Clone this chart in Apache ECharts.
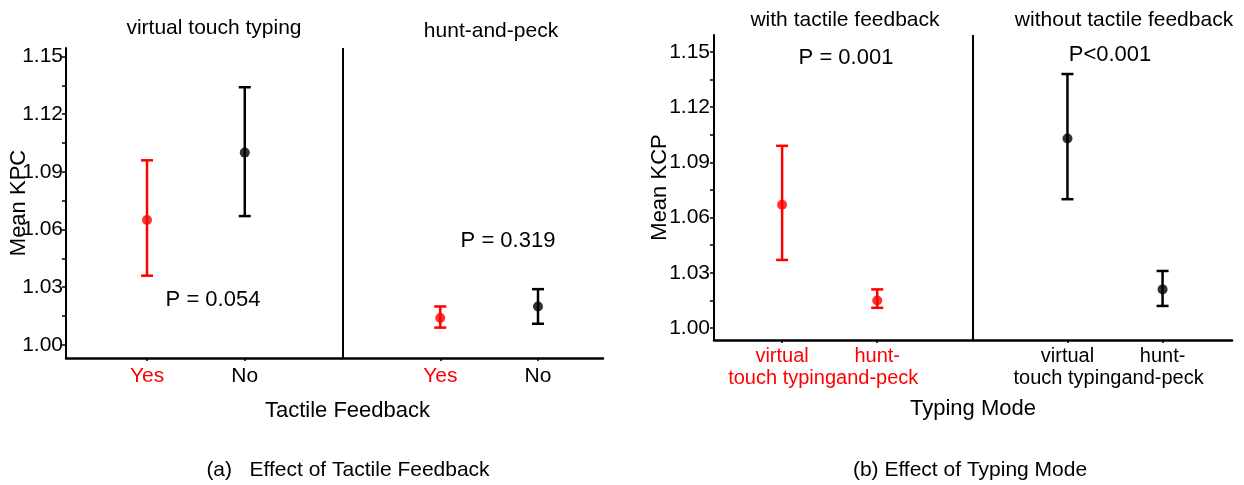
<!DOCTYPE html>
<html>
<head>
<meta charset="utf-8">
<script src="https://cdn.jsdelivr.net/npm/echarts@6/dist/echarts.min.js"></script>
<style>html,body{margin:0;padding:0;background:#fff}#c{width:1244px;height:485px}</style>
</head>
<body>
<div id="c"></div>
<script>
// ---- data ----
const leftCats = ['Yes', 'No', 'Yes', 'No'];
const leftGroups = ['virtual touch typing', 'hunt-and-peck'];
const leftMean = [1.065, 1.100, 1.014, 1.020];
const leftLow  = [1.036, 1.067, 1.009, 1.011];
const leftHigh = [1.096, 1.134, 1.020, 1.029];
const leftColorIdx = [0, 1, 0, 1];
const leftP = ['P = 0.054', 'P = 0.319'];

const rightCats = ['virtual\ntouch typing', 'hunt-\nand-peck', 'virtual\ntouch typing', 'hunt-\nand-peck'];
const rightGroups = ['with tactile feedback', 'without tactile feedback'];
const rightMean = [1.067, 1.015, 1.103, 1.021];
const rightLow  = [1.037, 1.011, 1.070, 1.012];
const rightHigh = [1.099, 1.021, 1.138, 1.031];
const rightColorIdx = [0, 0, 1, 1];
const rightP = ['P = 0.001', 'P<0.001'];

const yTicks = [1.00, 1.03, 1.06, 1.09, 1.12, 1.15];
const yMinorTicks = [1.015, 1.045, 1.075, 1.105, 1.135];

// ---- rendering ----
const palette = ['#ff0000', '#000000'];
const FONT = 'Liberation Sans, Arial, sans-serif';
const xPos = i => (i < 2 ? i + 1 : i + 2);   // two groups with a gap slot between
const xVals = leftCats.map((_, i) => xPos(i));

function errRender(params, api) {
  const x = api.value(0), lo = api.value(1), hi = api.value(2);
  const color = palette[api.value(3)];
  const a = api.coord([x, lo]), b = api.coord([x, hi]);
  const w = 6;
  const st = {stroke: color, lineWidth: 2.5};
  return {type: 'group', children: [
    {type: 'line', shape: {x1: a[0], y1: a[1], x2: b[0], y2: b[1]}, style: st},
    {type: 'line', shape: {x1: a[0] - w, y1: a[1], x2: a[0] + w, y2: a[1]}, style: st},
    {type: 'line', shape: {x1: b[0] - w, y1: b[1], x2: b[0] + w, y2: b[1]}, style: st}
  ]};
}

function xLabelFmt(cats, colorIdx) {
  return v => {
    const i = xVals.indexOf(Math.round(v));
    if (i < 0) return '';
    const tag = colorIdx[i] === 0 ? 'r' : 'k';
    return cats[i].split('\n').map(s => '{' + tag + '|' + s + '}').join('\n');
  };
}

function yAxisDef(gi, min, max, name, nameGap, margin) {
  return {
    type: 'value', gridIndex: gi, min: min, max: max,
    name: name, nameLocation: 'middle', nameGap: nameGap, nameMoveOverlap: false,
    nameTextStyle: {fontFamily: FONT, fontSize: 22, color: '#000'},
    axisLine: {show: true, lineStyle: {color: '#000', width: 2}},
    axisTick: {show: true, customValues: yTicks.concat(yMinorTicks), length: 4, lineStyle: {color: '#000', width: 1.5}},
    axisLabel: {customValues: yTicks, formatter: v => v.toFixed(2), fontFamily: FONT, fontSize: 21, color: '#000', margin: margin, hideOverlap: false},
    splitLine: {show: false}
  };
}

function xAxisDef(gi, min, max, cats, colorIdx, name, nameGap, margin, pad, fs) {
  return {
    type: 'value', gridIndex: gi, min: min, max: max,
    name: name, nameLocation: 'middle', nameGap: nameGap, nameMoveOverlap: false,
    nameTextStyle: {fontFamily: FONT, fontSize: 22, color: '#000', padding: pad},
    axisLine: {show: true, lineStyle: {color: '#000', width: 2.5}},
    axisTick: {show: true, customValues: xVals, length: 3, lineStyle: {color: '#000', width: 1.5}},
    axisLabel: {
      customValues: xVals, formatter: xLabelFmt(cats, colorIdx), margin: margin,
      hideOverlap: false, interval: 0, showMinLabel: true, showMaxLabel: true,
      rich: {
        r: {color: '#ff0000', fontFamily: FONT, fontSize: fs, lineHeight: 22},
        k: {color: '#000000', fontFamily: FONT, fontSize: fs, lineHeight: 22}
      }
    },
    splitLine: {show: false}
  };
}

function seriesFor(gi, mean, low, high, colorIdx) {
  return [
    {
      type: 'custom', xAxisIndex: gi, yAxisIndex: gi, renderItem: errRender, clip: false,
      encode: {x: 0, y: [1, 2]},
      data: mean.map((m, i) => [xPos(i), low[i], high[i], colorIdx[i]]),
      markLine: {
        silent: true, symbol: 'none', label: {show: false},
        lineStyle: {color: '#000', width: 2, type: 'solid'},
        data: [{xAxis: 3}]
      }
    },
    {
      type: 'scatter', xAxisIndex: gi, yAxisIndex: gi, symbolSize: 10,
      data: mean.map((m, i) => ({value: [xPos(i), m], itemStyle: {color: palette[colorIdx[i]]}}))
    }
  ];
}

function txt(x, y, s, size) {
  return {type: 'text', x: x, y: y, style: {text: s, fill: '#000', font: (size || 21) + 'px ' + FONT, align: 'center', verticalAlign: 'middle'}};
}

const chart = echarts.init(document.getElementById('c'), null, {renderer: 'canvas'});
chart.setOption({
  animation: false,
  backgroundColor: '#fff',
  grid: [
    {left: 66, top: 48, width: 537, height: 310},
    {left: 714, top: 35, width: 518, height: 305}
  ],
  xAxis: [
    xAxisDef(0, 0.171, 5.665, leftCats, leftColorIdx, 'Tactile Feedback', 42, 7, [0, 0, 0, 26], 21),
    xAxisDef(1, 0.284, 5.73, rightCats, rightColorIdx, 'Typing Mode', 58, 5, [0, 0, 0, 0], 20)
  ],
  yAxis: [
    yAxisDef(0, 0.9932, 1.1544, 'Mean KPC', 36, 3),
    yAxisDef(1, 0.9935, 1.1592, 'Mean KCP', 43, 4)
  ],
  series: seriesFor(0, leftMean, leftLow, leftHigh, leftColorIdx)
    .concat(seriesFor(1, rightMean, rightLow, rightHigh, rightColorIdx)),
  graphic: [
    txt(214, 28, leftGroups[0]),
    txt(491, 31, leftGroups[1]),
    txt(845, 20, rightGroups[0]),
    txt(1124, 20, rightGroups[1]),
    txt(213, 300, leftP[0], 22),
    txt(508, 241, leftP[1], 22),
    txt(846, 58, rightP[0], 22),
    txt(1110, 55, rightP[1], 22),
    txt(348, 470, '(a)   Effect of Tactile Feedback'),
    txt(970, 470, '(b) Effect of Typing Mode')
  ]
});
</script>
</body>
</html>
